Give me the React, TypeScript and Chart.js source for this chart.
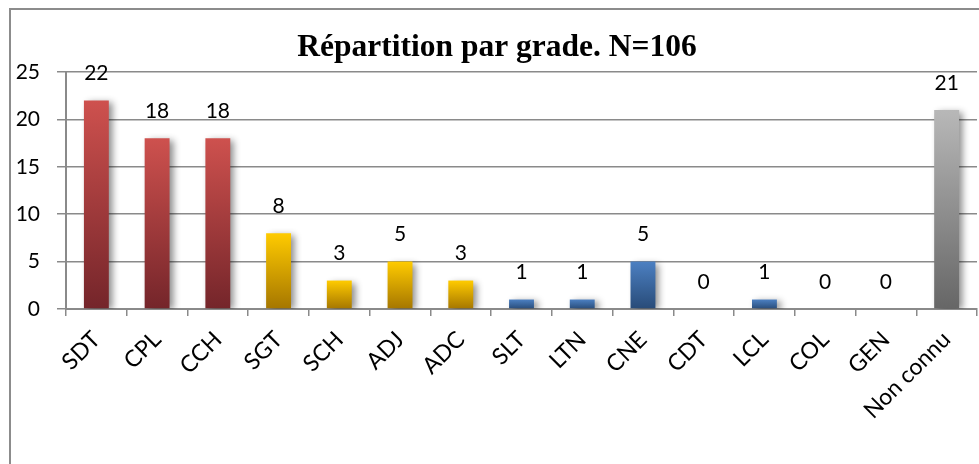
import React, { useEffect, useRef } from "react";
import { Chart, registerables } from "chart.js";

Chart.register(...registerables);

const categories = ["SDT", "CPL", "CCH", "SGT", "SCH", "ADJ", "ADC", "SLT", "LTN", "CNE", "CDT", "LCL", "COL", "GEN", "Non connu"];
const counts = [22, 18, 18, 8, 3, 5, 3, 1, 1, 5, 0, 1, 0, 0, 21];
const yTickValues = [0, 5, 10, 15, 20, 25];
const chartTitle = "Répartition par grade. N=106";
const colorGroups = ["red", "red", "red", "yellow", "yellow", "yellow", "yellow", "blue", "blue", "blue", "blue", "blue", "blue", "blue", "gray"];

const palette: Record<string, [string, string]> = {
  red: ["#CE514E", "#74252A"],
  yellow: ["#FFCB00", "#A57600"],
  blue: ["#4C80C2", "#284B78"],
  gray: ["#B8B8B8", "#666666"],
};

const FONT = "Lato, 'Open Sans', sans-serif";

const shadowPlugin = {
  id: "barShadow",
  beforeDatasetsDraw(chart: any) {
    const ctx = chart.ctx;
    ctx.save();
    ctx.shadowColor = "rgba(0,0,0,0.45)";
    ctx.shadowBlur = 7;
    ctx.shadowOffsetX = 4;
    ctx.shadowOffsetY = 2;
  },
  afterDatasetsDraw(chart: any) {
    chart.ctx.restore();
  },
};

const labelsPlugin = {
  id: "valueLabels",
  afterDraw(chart: any) {
    const ctx = chart.ctx;
    const meta = chart.getDatasetMeta(0);
    ctx.save();
    ctx.font = `21px ${FONT}`;
    ctx.fillStyle = "#000";
    ctx.textAlign = "center";
    ctx.textBaseline = "middle";
    meta.data.forEach((el: any, i: number) => {
      ctx.fillText(String(counts[i]), el.x, el.y - 27);
    });
    ctx.font = `bold 31.5px 'Liberation Serif', 'Times New Roman', serif`;
    ctx.textBaseline = "alphabetic";
    ctx.fillText(chartTitle, 497, 56);
    ctx.restore();
  },
};

export default function App() {
  const ref = useRef<HTMLCanvasElement | null>(null);
  useEffect(() => {
    if (!ref.current) return;
    const chart = new Chart(ref.current, {
      type: "bar",
      data: {
        labels: categories,
        datasets: [
          {
            data: counts,
            barPercentage: 0.41,
            categoryPercentage: 1,
            backgroundColor: (c: any) => {
              const g = colorGroups[c.dataIndex] || "blue";
              const [top, bot] = palette[g];
              const chart = c.chart;
              const area = chart.chartArea;
              if (!area || c.type !== "data") return top;
              const ys = chart.scales.y;
              const yTop = ys.getPixelForValue(counts[c.dataIndex]);
              const yBot = ys.getPixelForValue(0);
              if (yBot - yTop < 1) return top;
              const grad = chart.ctx.createLinearGradient(0, yTop, 0, yBot);
              grad.addColorStop(0, top);
              grad.addColorStop(1, bot);
              return grad;
            },
            borderWidth: 0,
          },
        ],
      },
      options: {
        animation: false,
        responsive: false,
        maintainAspectRatio: false,
        layout: { padding: { top: 72, right: 2, left: 0, bottom: 0 } },
        plugins: {
          legend: { display: false },
          title: { display: false },
          tooltip: { enabled: false },
        },
        scales: {
          x: {
            afterFit: (s: any) => {
              s.height = 155;
            },
            grid: {
              drawOnChartArea: false,
              drawTicks: true,
              tickLength: 7,
              color: "#8a8a8a",
              lineWidth: 1.5,
            },
            border: { color: "#8a8a8a", width: 2 },
            ticks: {
              autoSkip: false,
              maxRotation: 45,
              minRotation: 45,
              color: "#000",
              font: { family: FONT, size: 23 },
              padding: 10,
            },
          },
          y: {
            min: 0,
            max: 25,
            afterFit: (s: any) => {
              s.width = 66;
            },
            afterBuildTicks: (s: any) => {
              s.ticks = yTickValues.map((v) => ({ value: v }));
            },
            grid: {
              drawTicks: true,
              tickLength: 9,
              color: "#8a8a8a",
              lineWidth: 1.5,
            },
            border: { color: "#8a8a8a", width: 2 },
            ticks: {
              color: "#000",
              font: { family: FONT, size: 21 },
              padding: 17,
            },
          },
        },
      },
      plugins: [shadowPlugin, labelsPlugin],
    });
    return () => chart.destroy();
  }, []);

  return (
    <div style={{ position: "absolute", left: 0, top: 0, width: 979, height: 464, background: "#fff", overflow: "hidden" }}>
      <div
        style={{
          position: "absolute",
          left: 9,
          top: 8,
          width: 980,
          height: 480,
          border: "2px solid #8c8c8c",
          boxSizing: "border-box",
        }}
      />
      <canvas ref={ref} width={979} height={464} style={{ position: "absolute", left: 0, top: 0 }} />
    </div>
  );
}
